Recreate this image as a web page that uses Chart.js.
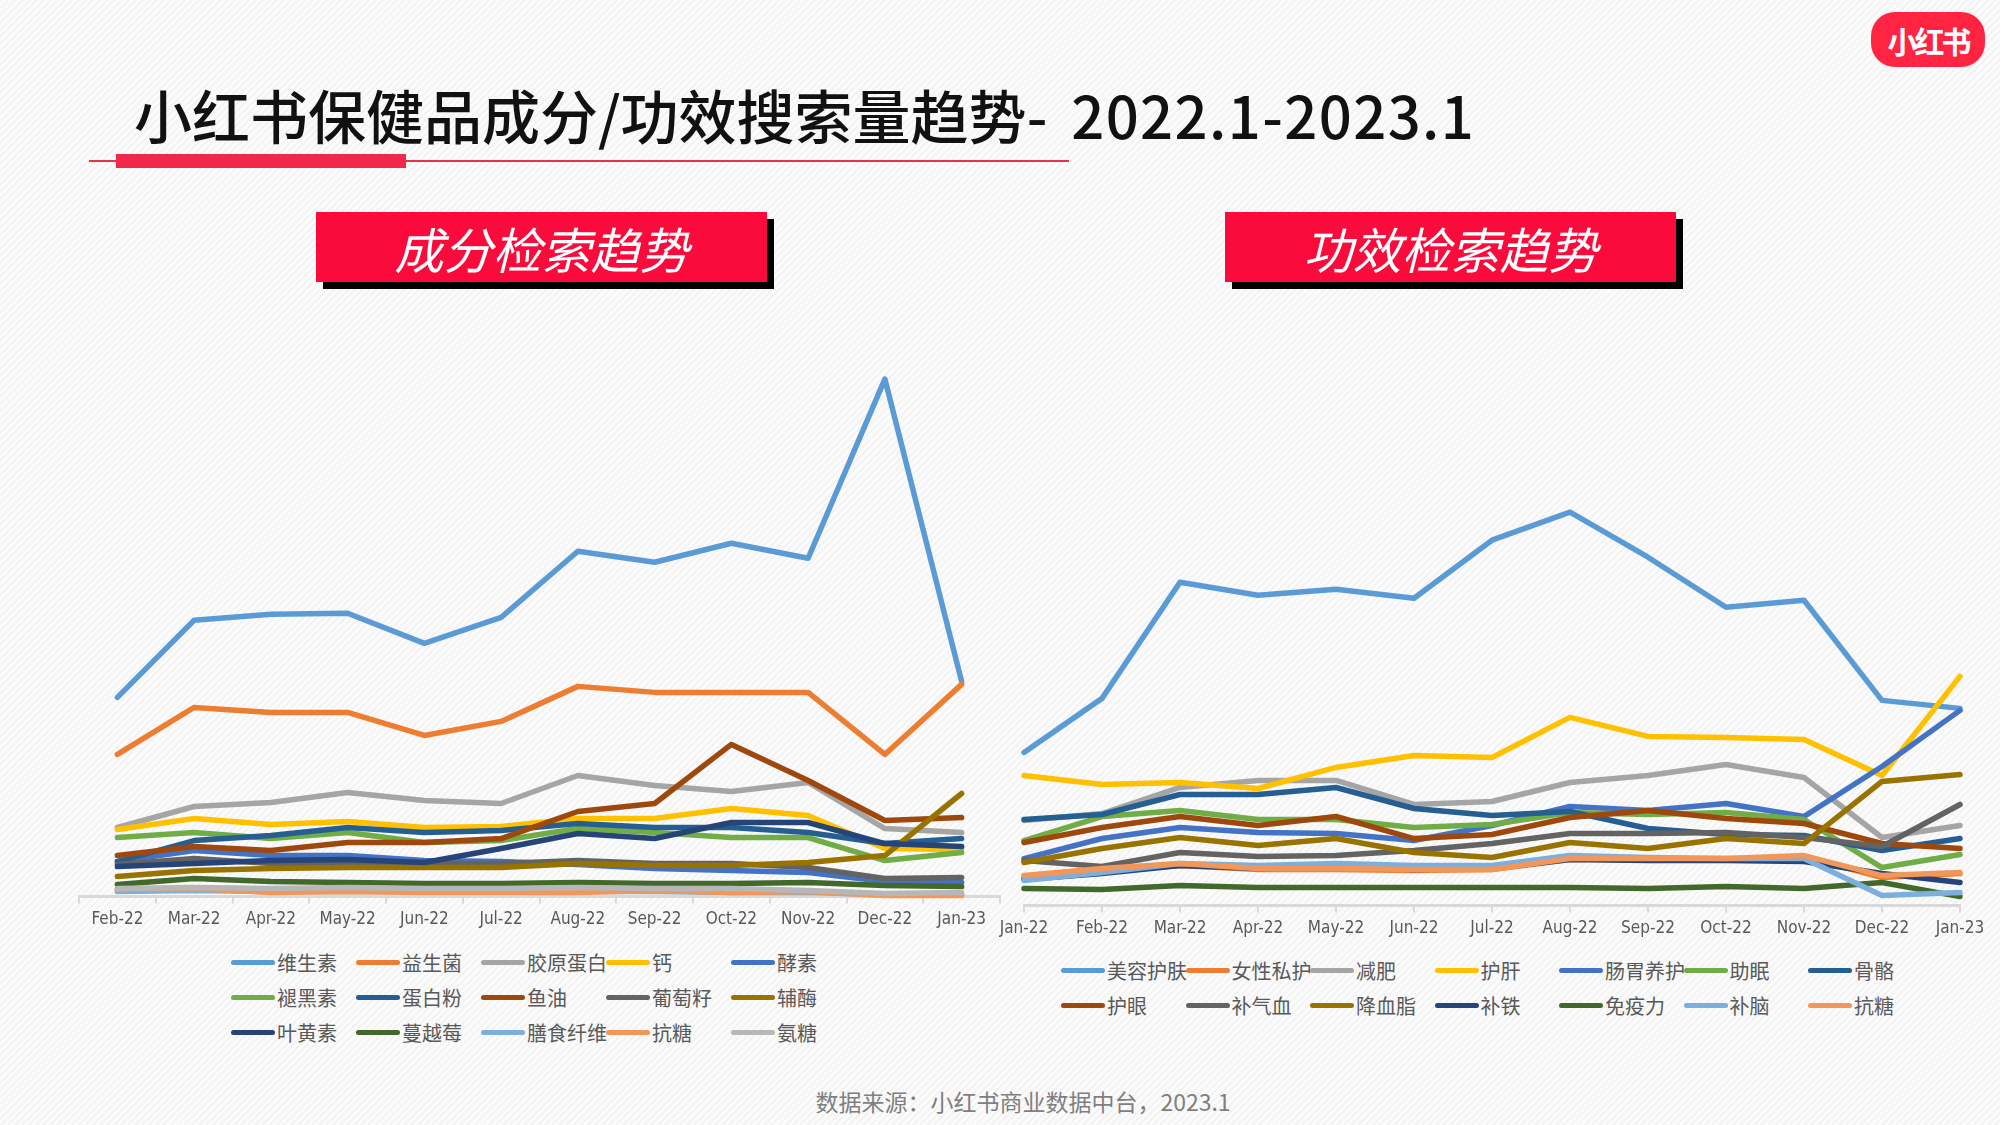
<!DOCTYPE html>
<html lang="zh">
<head>
<meta charset="utf-8">
<title>小红书保健品成分/功效搜索量趋势</title>
<script src="https://cdn.jsdelivr.net/npm/chart.js@4.4.1/dist/chart.umd.min.js"></script>
<style>
    html, body { margin: 0; padding: 0; }
    body {
        width: 2000px;
        height: 1125px;
        position: relative;
        overflow: hidden;
        background: repeating-linear-gradient(135deg, #f3f3f3 0px, #f3f3f3 2px, #fbfbfb 2px, #fbfbfb 5px);
        font-family: 'Noto Sans CJK SC', sans-serif;
    }
    .abs { position: absolute; }
    #title {
        left: 134px; top: 85px;
        font-size: 58px; line-height: 1; font-weight: 500;
        color: #111; white-space: nowrap;
    }
    #title .num { letter-spacing: 1.4px; word-spacing: 8px; }
    #titleLine { left: 89px; top: 160px; width: 980px; height: 2px; background: #e8334a; }
    #titleBar { left: 116px; top: 154px; width: 290px; height: 14px; background: #f0294a; }
    .head {
        width: 451px; height: 70px;
        background: #fb0a3c;
        box-shadow: 7px 7px 0 #000;
        color: #fff;
        font-size: 49px; font-style: italic;
        display: flex; align-items: center; justify-content: center;
    }
    #headLeft { left: 316px; top: 212px; }
    #headRight { left: 1225px; top: 212px; }
    #logo {
        left: 1871px; top: 12px; width: 114px; height: 55px;
        border-radius: 24px; background: #ff2442; color: #fff;
        font-size: 30px; font-weight: bold; letter-spacing: -3px;
        display: flex; align-items: center; justify-content: center;
    }
    .legend { display: grid; grid-auto-rows: 35px; }
    .item { display: flex; align-items: center; color: #595959; font-size: 20px; line-height: 1; white-space: nowrap; }
    .item span.mark { width: 44px; height: 5px; border-radius: 3px; margin-right: 2px; flex: none; }
    #legendLeft { left: 231px; top: 945px; grid-template-columns: repeat(5, 125px); }
    #legendRight { left: 1061px; top: 953px; grid-template-columns: repeat(7, 124.5px); }
    #source {
        left: 0; width: 2046px; top: 1090px; text-align: center;
        font-size: 23px; color: #7f7f7f; line-height: 1;
    }
</style>
</head>
<body>
<div id="title" class="abs">小红书保健品成分/功效搜索量趋势<span class="num">- 2022.1-2023.1</span></div>
<div id="titleLine" class="abs"></div>
<div id="titleBar" class="abs"></div>
<div id="logo" class="abs">小红书</div>
<div id="headLeft" class="abs head">成分检索趋势</div>
<div id="headRight" class="abs head">功效检索趋势</div>

<canvas id="ingredientChart" class="abs" width="1040" height="600" style="left:0px;top:336px"></canvas>
<canvas id="effectChart" class="abs" width="1040" height="600" style="left:960px;top:345px"></canvas>

<div id="legendLeft" class="abs legend"></div>
<div id="legendRight" class="abs legend"></div>
<div id="source" class="abs">数据来源：小红书商业数据中台，2023.1</div>

<script>
// months on the two x axes
const leftMonths = ['Feb-22', 'Mar-22', 'Apr-22', 'May-22', 'Jun-22', 'Jul-22', 'Aug-22', 'Sep-22', 'Oct-22', 'Nov-22', 'Dec-22', 'Jan-23'];
const rightMonths = ['Jan-22', 'Feb-22', 'Mar-22', 'Apr-22', 'May-22', 'Jun-22', 'Jul-22', 'Aug-22', 'Sep-22', 'Oct-22', 'Nov-22', 'Dec-22', 'Jan-23'];

// 成分检索 (search index)
const vitamin       = [199, 276, 282, 283, 253, 279, 345, 334, 353, 338, 517, 215];
const probiotic     = [142, 189, 184, 184, 161, 175, 210, 204, 204, 204, 142, 212];
const collagen      = [69, 90, 94, 104, 96, 93, 121, 111, 105, 114, 68, 64];
const calcium       = [67, 78, 72, 75, 69, 70, 78, 78, 88, 81, 48, 47];
const enzyme        = [35, 46, 41, 41, 36, 35, 32, 28, 26, 24, 15, 14];
const melatonin     = [59, 64, 58, 64, 54, 56, 68, 64, 59, 59, 36, 44];
const proteinPowder = [35, 56, 61, 69, 64, 66, 73, 69, 69, 64, 53, 58];
const fishOil       = [41, 50, 46, 54, 54, 58, 85, 93, 152, 116, 76, 79];
const grapeSeed     = [32, 38, 33, 33, 33, 33, 36, 33, 33, 29, 18, 19];
const coenzyme      = [20, 26, 28, 29, 29, 29, 33, 31, 31, 34, 41, 103];
const lutein        = [30, 33, 36, 37, 34, 48, 63, 58, 74, 74, 53, 50];
const cranberry     = [12, 18, 15, 14, 13, 13, 14, 13, 13, 14, 11, 10];
const dietaryFiber  = [5, 6, 5, 5, 5, 5, 5, 5, 4, 4, 2, 2];
const antiSugarA    = [7, 8, 4, 5, 4, 4, 4, 6, 4, 5, 1, 1];
const glucosamine   = [8, 9, 8, 9, 8, 8, 9, 8, 8, 6, 3, 4];

// 功效检索
const beautySkin    = [153, 207, 323, 310, 316, 307, 365, 393, 348, 298, 305, 205, 197];
const femaleCare    = [28, 35, 40, 36, 36, 35, 36, 46, 46, 46, 49, 28, 32];
const weightLoss    = [85, 92, 118, 125, 125, 101, 104, 123, 130, 141, 128, 68, 80];
const liverCare     = [130, 121, 123, 117, 138, 150, 148, 188, 169, 168, 166, 130, 229];
const gutCare       = [47, 67, 78, 73, 72, 65, 80, 99, 95, 102, 89, 139, 195];
const sleepAid      = [65, 89, 95, 86, 86, 78, 81, 93, 91, 93, 86, 38, 51];
const boneCare      = [86, 91, 111, 111, 118, 97, 90, 94, 77, 71, 70, 55, 67];
const eyeCare       = [63, 78, 89, 80, 89, 67, 71, 88, 95, 87, 82, 62, 57];
const bloodQi       = [45, 39, 53, 49, 50, 55, 62, 72, 72, 73, 68, 59, 101];
const lipidDown     = [43, 57, 68, 60, 67, 53, 48, 63, 57, 67, 62, 124, 131];
const ironSupp      = [26, 32, 40, 37, 38, 36, 37, 46, 45, 45, 44, 32, 23];
const immunity      = [17, 16, 20, 18, 18, 18, 18, 18, 17, 19, 17, 23, 9];
const brainCare     = [25, 33, 42, 40, 42, 40, 40, 50, 48, 47, 47, 10, 13];
const antiSugarB    = [30, 37, 42, 37, 37, 36, 36, 47, 47, 47, 50, 30, 33];

const ingredientLines = [
    ['维生素', vitamin], ['益生菌', probiotic], ['胶原蛋白', collagen], ['钙', calcium], ['酵素', enzyme],
    ['褪黑素', melatonin], ['蛋白粉', proteinPowder], ['鱼油', fishOil], ['葡萄籽', grapeSeed], ['辅酶', coenzyme],
    ['叶黄素', lutein], ['蔓越莓', cranberry], ['膳食纤维', dietaryFiber], ['抗糖', antiSugarA], ['氨糖', glucosamine],
];
const effectLines = [
    ['美容护肤', beautySkin], ['女性私护', femaleCare], ['减肥', weightLoss], ['护肝', liverCare], ['肠胃养护', gutCare],
    ['助眠', sleepAid], ['骨骼', boneCare], ['护眼', eyeCare], ['补气血', bloodQi], ['降血脂', lipidDown],
    ['补铁', ironSupp], ['免疫力', immunity], ['补脑', brainCare], ['抗糖', antiSugarB],
];

// office palette
const palette = ['#5B9BD5', '#ED7D31', '#A5A5A5', '#FFC000', '#4472C4', '#70AD47', '#255E91', '#9E480E',
    '#636363', '#997300', '#264478', '#43682B', '#7CAFDD', '#F1975A', '#B7B7B7'];

function buildChart(cssId, months, lines, offset, padding) {
    // later series sit on top, as in the source
    const datasets = lines.map(([name, values], i) => ({
        label: name,
        data: values,
        borderColor: palette[i],
        backgroundColor: palette[i],
        borderWidth: 5.5,
        pointRadius: 0,
        tension: 0,
        borderJoinStyle: 'round',
        borderCapStyle: 'round',
        clip: false,
        order: lines.length - i,
    }));
    return new Chart(document.getElementById(cssId), {
        type: 'line',
        data: {labels: months, datasets: datasets},
        options: {
            responsive: false,
            animation: false,
            layout: {padding: padding},
            plugins: {
                legend: {display: false},
                tooltip: {enabled: false},
            },
            scales: {
                x: {
                    offset: offset,
                    grid: {offset: offset, drawOnChartArea: false, color: '#d9d9d9', lineWidth: 2, tickLength: 7},
                    border: {color: '#d9d9d9', width: 3},
                    ticks: {
                        color: '#595959',
                        padding: 6,
                        maxRotation: 0,
                        autoSkip: false,
                        font: {family: "'Liberation Sans Narrow', 'DejaVu Sans Condensed', sans-serif", size: 17},
                    },
                },
                y: {display: false, min: 0, max: 560},
            },
        },
    });
}

function buildLegend(cssId, lines) {
    const box = document.getElementById(cssId);
    lines.forEach(([name], i) => {
        const item = document.createElement('div');
        item.className = 'item';
        const mark = document.createElement('span');
        mark.className = 'mark';
        mark.style.background = palette[i];
        item.appendChild(mark);
        item.appendChild(document.createTextNode(name));
        box.appendChild(item);
    });
}

buildChart('ingredientChart', leftMonths, ingredientLines, true, {left: 79, right: 40, top: 0, bottom: 0});
buildChart('effectChart', rightMonths, effectLines, false, {left: 64, right: 40, top: 0, bottom: 0});
buildLegend('legendLeft', ingredientLines);
buildLegend('legendRight', effectLines);
</script>
</body>
</html>
